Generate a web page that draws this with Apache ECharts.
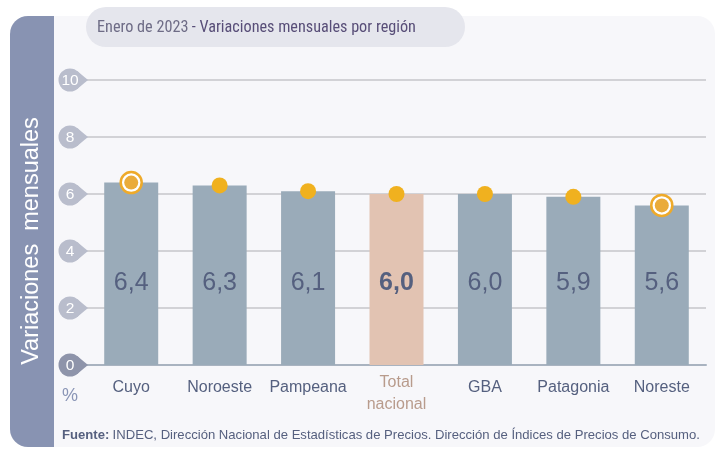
<!DOCTYPE html>
<html><head><meta charset="utf-8">
<script src="https://cdn.jsdelivr.net/npm/echarts@6/dist/echarts.min.js"></script>
<style>html,body{margin:0;padding:0;background:#fff}#c{width:719px;height:450px}</style>
</head><body><div id="c"></div>
<script>
const categories = ['Cuyo', 'Noroeste', 'Pampeana', 'Total\nnacional', 'GBA', 'Patagonia', 'Noreste'];
const values = [6.4, 6.3, 6.1, 6.0, 6.0, 5.9, 5.6];
const yTicks = [0, 2, 4, 6, 8, 10];
const totalName = 'Total\nnacional';

const chart = echarts.init(document.getElementById('c'), null, {renderer: 'canvas'});
const fmt = v => v.toFixed(1).replace('.', ',');
const totalIdx = categories.indexOf(totalName);
const regional = values.filter((v, i) => i !== totalIdx);
const maxV = Math.max(...regional), minV = Math.min(...regional);
const isRinged = (v, i) => i !== totalIdx && (v === maxV || v === minV);
const ringed = values.map((v, i) => isRinged(v, i) ? v : '-');

const SANS = 'Liberation Sans';
const NARROW = 'Roboto Condensed';

const option = {
  animation: false,
  backgroundColor: '#ffffff',
  textStyle: {fontFamily: SANS},
  graphic: [
    {type: 'rect', z: -10, shape: {x: 10, y: 16, width: 705, height: 431, r: 18}, style: {fill: '#f7f7fa'}},
    {type: 'rect', z: -9, shape: {x: 10, y: 16, width: 44, height: 431, r: [18, 0, 0, 18]}, style: {fill: '#8893b2'}},
    {type: 'rect', z: -8, shape: {x: 86, y: 7, width: 379, height: 40, r: 20}, style: {fill: '#e5e6ed'}},
    {type: 'text', z: 5, x: 97, y: 28, style: {
      text: '{a|Enero de 2023} {b|- Variaciones mensuales por región}',
      align: 'left', verticalAlign: 'middle',
      rich: {
        a: {fontFamily: NARROW, fontSize: 16.2, fill: '#6e6c86'},
        b: {fontFamily: NARROW, fontSize: 16.2, fill: '#584e78'}
      }
    }},
    {type: 'text', z: 5, x: 32, y: 241, rotation: Math.PI / 2, style: {
      text: 'Variaciones  mensuales', align: 'center', verticalAlign: 'middle',
      fontFamily: SANS, fontSize: 23.5, fill: '#ffffff'
    }},
    {type: 'text', z: 5, x: 70, y: 396, style: {
      text: '%', align: 'center', verticalAlign: 'middle', fontFamily: SANS, fontSize: 18, fill: '#8a95b6'
    }},
    {type: 'text', z: 5, x: 62, y: 435, style: {
      text: '{b|Fuente:} {r|INDEC, Dirección Nacional de Estadísticas de Precios. Dirección de Índices de Precios de Consumo.}',
      verticalAlign: 'middle',
      rich: {
        b: {fontFamily: SANS, fontSize: 13.1, fontWeight: 'bold', fill: '#56607f'},
        r: {fontFamily: SANS, fontSize: 13.1, fill: '#56607f'}
      }
    }}
  ],
  grid: {left: 87, right: 13, top: 80, bottom: 85, containLabel: false},
  xAxis: {
    type: 'category',
    data: categories.map((c, i) => i === totalIdx
      ? {value: c, textStyle: {color: '#b89b8c', fontSize: 16, lineHeight: 22, padding: [-6, 0, 0, 0]}}
      : c),
    axisLine: {show: true, lineStyle: {color: '#a9b3c0', width: 2}},
    axisTick: {show: false},
    axisLabel: {color: '#55607f', fontSize: 16, margin: 13, lineHeight: 20, fontFamily: SANS, interval: 0}
  },
  yAxis: {
    type: 'value', min: 0, max: 10, interval: 2,
    axisLine: {show: false}, axisTick: {show: false},
    axisLabel: {show: false},
    splitLine: {lineStyle: {color: '#c6c6ca', width: 1.5}}
  },
  series: [
    {
      type: 'custom',
      clip: false,
      silent: true,
      z: 3,
      data: yTicks.map(v => [0, v]),
      encode: {x: 0, y: 1},
      renderItem: function (params, api) {
        const pt = api.coord([0, api.value(1)]);
        const y = pt[1];
        const cx = params.coordSys.x - 17;
        const r = 11.5;
        const fill = api.value(1) === 0 ? '#8e94aa' : '#b9bdcc';
        return {
          type: 'group',
          children: [
            {type: 'polygon', shape: {points: [[cx, y - 9], [cx + 7.5, y - 8.7], [cx + 18, y], [cx + 7.5, y + 8.7], [cx, y + 9]]}, style: {fill: fill}},
            {type: 'circle', shape: {cx: cx, cy: y, r: r}, style: {fill: fill}},
            {type: 'text', style: {text: String(api.value(1)), x: cx, y: y + 0.5, align: 'center', verticalAlign: 'middle', fontFamily: SANS, fontSize: 15.5, fill: '#ffffff'}}
          ]
        };
      }
    },
    {
      type: 'bar',
      barWidth: 54,
      z: 2,
      data: values.map((v, i) => i === totalIdx
        ? {value: v, itemStyle: {color: '#e2c3b2'}, label: {fontWeight: 'bold'}}
        : v),
      itemStyle: {color: '#9aabb9'},
      label: {
        show: true, position: 'insideBottom', distance: 69,
        formatter: p => fmt(p.value),
        fontSize: 25, color: '#55607f', fontFamily: SANS
      }
    },
    {
      type: 'scatter',
      symbol: 'circle',
      symbolSize: 21,
      z: 4,
      data: ringed,
      itemStyle: {color: '#ffffff', borderColor: '#eeaa2a', borderWidth: 2.5, opacity: 1}
    },
    {
      type: 'scatter',
      symbol: 'circle',
      z: 5,
      data: values.map((v, i) => isRinged(v, i)
        ? {value: v, symbolSize: 14, itemStyle: {color: '#eaab3a'}}
        : v),
      symbolSize: 16,
      itemStyle: {color: '#f0b11f', opacity: 1}
    }
  ]
};
chart.setOption(option);
</script>
</body></html>
